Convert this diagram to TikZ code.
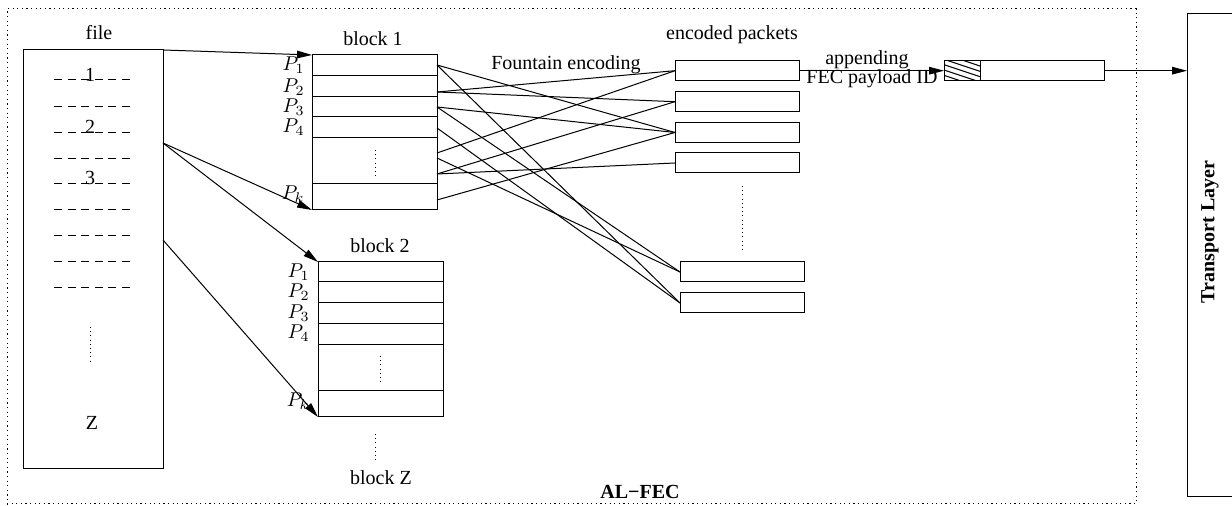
\documentclass[tikz,border=0pt]{standalone}
\usepackage{fontspec}
\setmainfont{Liberation Serif}
\usetikzlibrary{arrows.meta}
\begin{document}
\begin{tikzpicture}[x=0.5pt,y=-0.5pt, line width=0.5pt,
  box/.style={draw, inner sep=0pt, outer sep=0pt, anchor=north west},
  pkt/.style={box, minimum width=62pt, minimum height=10pt},
  blk/.style={box, minimum width=62.5pt, minimum height=77.5pt},
  arr/.style={-{Triangle[length=7.5pt,width=3.8pt]}},
  plbl/.style={anchor=east, inner sep=0pt},
  vdots/.style={dash pattern=on 0.5pt off 1.6pt},
  sepline/.style={dash pattern=on 4pt off 2.8pt},
  outer/.style={box, dash pattern=on 0.6pt off 1.7pt}]
\useasboundingbox (0,0) rectangle (1232,506);

% outer AL-FEC frame
\node[outer, minimum width=564.5pt, minimum height=247.5pt] (alfec) at (7,9) {};
\node[font=\bfseries] (alfeclbl) at (640,492) {AL−FEC};

% file
\node[box, minimum width=70pt, minimum height=209.5pt] (file) at (23,50) {};
\node (filelbl) at (99,33) {file};
\foreach \y in {80,107,133,159,184,210,236,262,288}
  \draw[sepline] (54,\y) -- (130,\y);
\node[anchor=base, inner sep=0pt] (n1) at (90,82) {1};
\node[anchor=base, inner sep=0pt] (n2) at (90,134) {2};
\node[anchor=base, inner sep=0pt] (n3) at (90,185) {3};
\draw[vdots] (90,327) -- (90,362);
\node (nz) at (92,423) {Z};

% block 1
\node[blk] (b1) at (312,55) {};
\node (b1lbl) at (373,39) {block 1};
\foreach \y in {76,97,117,138,184}
  \draw (312,\y) -- (437,\y);
\draw[vdots] (375,150) -- (375,178);
\node[plbl] (b1p1) at (305,65) {$P_1$};
\node[plbl] (b1p2) at (305,87) {$P_2$};
\node[plbl] (b1p3) at (305,107) {$P_3$};
\node[plbl] (b1p4) at (305,127) {$P_4$};
\node[plbl] (b1pk) at (305,194) {$P_k$};

% block 2
\node[blk] (b2) at (318,262) {};
\node (b2lbl) at (380,246) {block 2};
\foreach \y in {282,303,324,345,391}
  \draw (318,\y) -- (443,\y);
\draw[vdots] (380,356) -- (380,385);
\node[plbl] (b2p1) at (310,272) {$P_1$};
\node[plbl] (b2p2) at (310,292) {$P_2$};
\node[plbl] (b2p3) at (310,313) {$P_3$};
\node[plbl] (b2p4) at (310,333) {$P_4$};
\node[plbl] (b2pk) at (310,401) {$P_k$};

% block Z
\draw[vdots] (375,434) -- (375,463);
\node (bzlbl) at (381,478) {block Z};

% file -> blocks
\coordinate (f2) at (163,143);
\coordinate (f3) at (163,240);
\draw[arr] (file.north east) -- (b1.north west);
\draw[arr] (f2) -- (b1.south west);
\draw[arr] (f2) -- (b2.north west);
\draw[arr] (f3) -- (b2.south west);

% encoded packets
\node (enclbl) at (732,35) {encoded packets};
\node (fountain) at (566,65) {Fountain encoding};
\node[pkt] (e1) at (675,60.7) {};
\node[pkt] (e2) at (675,91.7) {};
\node[pkt] (e3) at (675,122.5) {};
\node[pkt] (e4) at (675,153) {};
\node[pkt] (e5) at (680,262) {};
\node[pkt] (e6) at (680,293) {};
\draw[vdots] (742,186) -- (742,250);

% encoding connections
\coordinate (s1) at (437,65);
\coordinate (s2) at (437,92);
\coordinate (s3) at (437,107);
\coordinate (s4) at (437,128);
\coordinate (s5) at (437,153);
\coordinate (s6) at (437,158);
\coordinate (s7) at (437,174);
\coordinate (s8) at (437,200);
\draw (s1) -- (e3.west);
\draw (s1) -- (e6.west);
\draw (s2) -- (e1.west);
\draw (s2) -- (e2.west);
\draw (s3) -- (e3.west);
\draw (s3) -- (e5.west);
\draw (s4) -- (e6.west);
\draw (s5) -- (e1.west);
\draw (s6) -- (e5.west);
\draw (s7) -- (e2.west);
\draw (s7) -- (e4.west);
\draw (s8) -- (e3.west);

% packet with FEC payload ID
\node[box, minimum width=18pt, minimum height=10pt] (h) at (944,60.7) {};
\begin{scope}
  \clip (944,60.7) rectangle (980,80.7);
  \foreach \i in {868,884,...,980}
    \draw (\i,60.7) -- ++(60,20);
\end{scope}
\node[pkt] (r) at (980,60.7) {};
\draw[arr] (e1.east) -- (h.west);
\node (app1) at (867,60) {appending};
\node (app2) at (872,79) {FEC payload ID};

% transport layer
\node[inner sep=0pt, outer sep=0pt, anchor=north west, minimum width=22.5pt, minimum height=241.5pt] (tl) at (1187,14) {};
\draw (tl.north east) -- (tl.north west) -- (tl.south west) -- (tl.south east);
\node[rotate=90, font=\bfseries] (tltext) at (1210,232) {Transport Layer};
\draw[arr] (r.east) -- (r.east -| tl.west);
\end{tikzpicture}
\end{document}
